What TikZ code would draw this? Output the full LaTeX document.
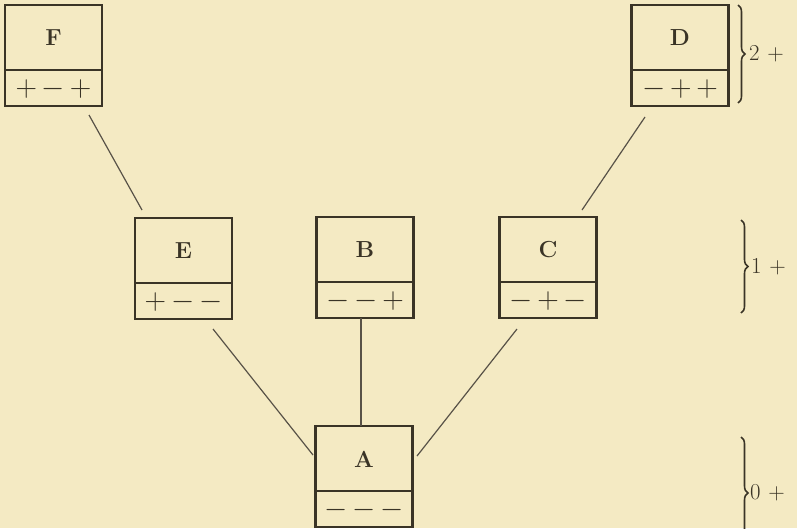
\documentclass[tikz,border=0pt]{standalone}
\usepackage{graphicx}
\usetikzlibrary{decorations.pathreplacing,calc}
\definecolor{paper}{HTML}{F4EAC3}
\definecolor{ink}{HTML}{3A3426}
\tikzset{
 box/.style={draw=ink, line width=2.8pt, minimum width=97pt, minimum height=101pt, inner sep=0pt, outer sep=0pt},
 divider/.style={draw=ink, line width=2.6pt},
 conn/.style={draw=ink!85, line width=1.2pt},
 letter/.style={font=\fontsize{20.74}{24}\selectfont\bfseries, text=ink, inner sep=0pt},
 signs/.style={font=\fontsize{24.88}{26}\selectfont, text=ink, inner sep=0pt},
 bracepath/.style={draw=ink, line width=1.6pt, decorate, decoration={brace, amplitude=7pt}},
 level/.style={font=\fontsize{20.74}{24}\selectfont, text=ink, anchor=west, inner sep=0pt},
}
\newcommand\cellbox[5]{%
 \node[box, anchor=north] (#1) at (#2,#3) {};
 \draw[divider] ([yshift=-65pt]#1.north west) -- ([yshift=-65pt]#1.north east);
 \node[letter] (#1l) at ([yshift=-33pt]#1.north) {\scalebox{1.12}{#4}};
 \node[signs] (#1s) at ([yshift=-84pt]#1.north) {#5};
}
\newcommand\sg[3]{\scalebox{1.2}{$#1$\kern4pt$#2$\kern4pt$#3$}}
\newcommand\lvl[1]{\scalebox{1.1}{#1\kern7pt$+$}}
\begin{document}
\begin{tikzpicture}[x=1pt,y=-1pt]
\useasboundingbox (0,0) rectangle (797,528);
\fill[paper] (0,0) rectangle (797,528);
\clip (0,0) rectangle (797,528);
\cellbox{F}{53.5}{5}{F}{\sg{+}{-}{+}}
\cellbox{D}{680}{5}{D}{\sg{-}{+}{+}}
\cellbox{E}{183.5}{218}{E}{\sg{+}{-}{-}}
\cellbox{B}{365}{217}{B}{\sg{-}{-}{+}}
\cellbox{C}{548}{217}{C}{\sg{-}{+}{-}}
\cellbox{A}{364}{426}{A}{\sg{-}{-}{-}}
% connectors
\draw[conn] ([xshift=-13pt,yshift=-9pt]F.south east) -- ([xshift=7pt,yshift=8pt]E.north west);
\draw[conn] ([xshift=13.5pt,yshift=-11pt]D.south west) -- ([xshift=-14.5pt,yshift=7pt]C.north east);
\draw[conn] ([xshift=-19pt,yshift=-10pt]E.south east) -- ([xshift=-2.5pt,yshift=-29pt]A.north west);
\draw[conn] ([xshift=17.5pt,yshift=-11pt]C.south west) -- ([xshift=4.5pt,yshift=-30pt]A.north east);
\draw[conn] ([xshift=-4pt]B.south) -- ([xshift=-3pt]A.north);
% braces
\coordinate (b2t) at (738,5);
\coordinate (b2b) at (738,103);
\coordinate (b1t) at (741,220);
\coordinate (b1b) at (741,313);
\coordinate (b0t) at (741,437);
\coordinate (b0b) at (741,549);
\draw[bracepath] (b2t) -- (b2b);
\draw[bracepath] (b1t) -- (b1b);
\draw[bracepath] (b0t) -- (b0b);
\node[level] (l2) at ([xshift=11pt]$(b2t)!0.5!(b2b)$) {\lvl{2}};
\node[level] (l1) at ([xshift=10pt]$(b1t)!0.5!(b1b)$) {\lvl{1}};
\node[level] (l0) at ([xshift=9pt]$(b0t)!0.5!(b0b)$) {\lvl{0}};
\end{tikzpicture}
\end{document}
